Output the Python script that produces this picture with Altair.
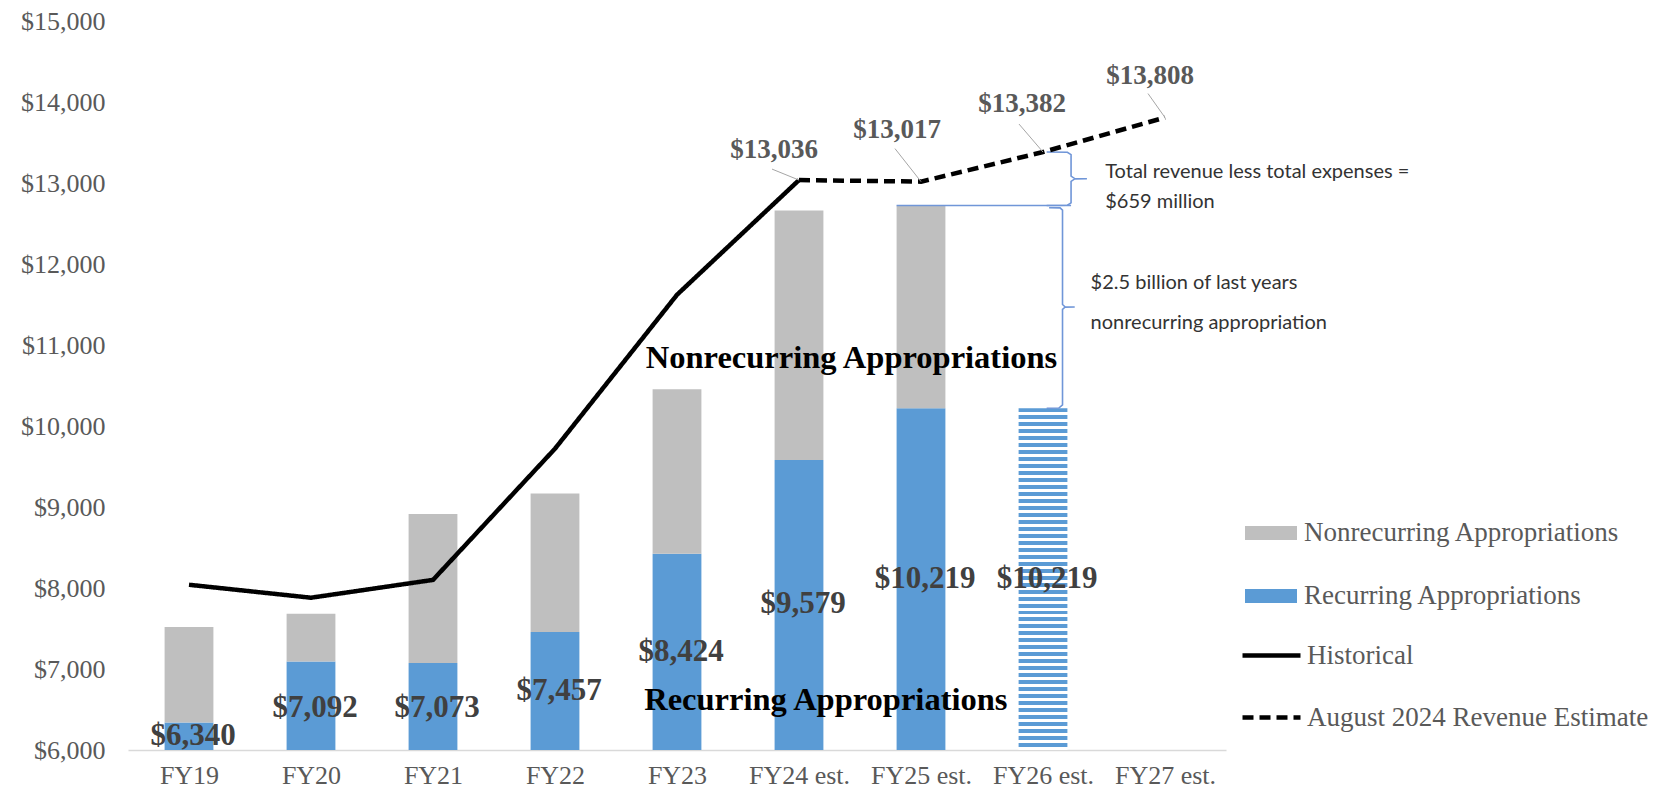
import altair as alt
import pandas as pd

# ---------------- data ----------------
years = ["FY19", "FY20", "FY21", "FY22", "FY23", "FY24 est.", "FY25 est.", "FY26 est.", "FY27 est."]
recurring = [6340, 7092, 7073, 7457, 8424, 9579, 10219]          # FY19..FY25
nonrecurring = [1180, 590, 1840, 1710, 2030, 3080, 2504]          # FY19..FY25
fy26_recurring = 10219                                            # FY26 (hatched)
historical = [8040, 7880, 8100, 9720, 11620, 13036]               # FY19..FY24
estimate = [13036, 13017, 13382, 13808]                           # FY24..FY27
rec_label_y = [6167, 6521, 6521, 6729, 7212, 7804, 8117, 8117]    # label anchors (value units)

GREY = "#BFBFBF"
BLUE = "#5B9BD5"
BRACE = "#7096D8"
SERIF = "Liberation Serif"
SANS = "Lato"

W, H = 1098, 729
YMIN, YMAX = 6000, 15000
PX_X = W / 9.0                 # px per category unit
PX_Y = H / float(YMAX - YMIN)  # px per value unit

xscale = alt.Scale(domain=[-0.5, 8.5], nice=False, zero=False)
yscale = alt.Scale(domain=[YMIN, YMAX], nice=False, zero=False)

label_expr = "[" + ",".join("'%s'" % y for y in years) + "][datum.value]"
xaxis = alt.Axis(values=list(range(9)), labelExpr=label_expr, grid=False, ticks=False,
                 domainColor="#D9D9D9", domainWidth=1.5, labelFont=SERIF, labelFontSize=26,
                 labelColor="#595959", labelPadding=12, labelOverlap=False, labelFlush=False,
                 labelBound=False, title=None)
yaxis = alt.Axis(values=list(range(YMIN, YMAX + 1, 1000)), format="$,.0f", grid=False, ticks=False,
                 domain=False, labelFont=SERIF, labelFontSize=26, labelColor="#595959",
                 labelPadding=23, minExtent=115, maxExtent=115, title=None)

# ---------------- stacked bars ----------------
rows = []
for i in range(len(recurring)):
    rows.append(dict(idx=i, series="Recurring Appropriations", lo=YMIN, hi=recurring[i]))
    rows.append(dict(idx=i, series="Nonrecurring Appropriations", lo=recurring[i],
                     hi=recurring[i] + nonrecurring[i]))
bar_df = pd.DataFrame(rows)

bars = alt.Chart(bar_df).transform_calculate(
    x0="datum.idx - 0.2", x1="datum.idx + 0.2"
).mark_bar().encode(
    x=alt.X("x0:Q", scale=xscale, axis=xaxis),
    x2="x1:Q",
    y=alt.Y("hi:Q", scale=yscale, axis=yaxis),
    y2="lo:Q",
    color=alt.Color("series:N",
                    scale=alt.Scale(domain=["Nonrecurring Appropriations", "Recurring Appropriations"],
                                    range=[GREY, BLUE]),
                    legend=alt.Legend(orient="none", legendX=1117, legendY=486, title=None,
                                      symbolType="M-1,-0.27L1,-0.27L1,0.27L-1,0.27Z",
                                      symbolSize=2704, symbolStrokeWidth=0, labelFont=SERIF,
                                      labelFontSize=27, labelColor="#595959", labelOffset=7,
                                      rowPadding=24, padding=0, labelLimit=500)),
)

# ---------------- FY26 hatched bar ----------------
n = 49
stops = []
for k in range(n):
    a, b, c = k / n, (k + 0.57) / n, (k + 1) / n
    stops += [alt.GradientStop(color=BLUE, offset=round(a, 5)),
              alt.GradientStop(color=BLUE, offset=round(b, 5)),
              alt.GradientStop(color="white", offset=round(b, 5)),
              alt.GradientStop(color="white", offset=round(c, 5))]
stripes = alt.LinearGradient(gradient="linear", stops=stops, x1=0, x2=0, y1=0, y2=1)

fy26 = alt.Chart(pd.DataFrame({"idx": [7], "lo": [YMIN], "hi": [fy26_recurring]})).transform_calculate(
    x0="datum.idx - 0.2", x1="datum.idx + 0.2"
).mark_bar(fill=stripes).encode(
    x=alt.X("x0:Q", scale=xscale), x2="x1:Q",
    y=alt.Y("hi:Q", scale=yscale), y2="lo:Q",
)

# ---------------- revenue lines ----------------
lrows = [dict(idx=i, value=v, series="Historical") for i, v in enumerate(historical)]
lrows += [dict(idx=5 + i, value=v, series="August 2024 Revenue Estimate") for i, v in enumerate(estimate)]
line_df = pd.DataFrame(lrows)

lines = alt.Chart(line_df).mark_line(color="black", strokeWidth=4.5, strokeCap="butt").encode(
    x=alt.X("idx:Q", scale=xscale),
    y=alt.Y("value:Q", scale=yscale),
    order="idx:Q",
    strokeDash=alt.StrokeDash("series:N",
                              scale=alt.Scale(domain=["Historical", "August 2024 Revenue Estimate"],
                                              range=[[1, 0], [11, 6]]),
                              legend=alt.Legend(orient="none", legendX=1112, legendY=603, title=None,
                                                symbolType="stroke", symbolSize=3364,
                                                symbolStrokeWidth=4.5, symbolStrokeColor="black",
                                                labelFont=SERIF, labelFontSize=27,
                                                labelColor="#595959", labelOffset=4,
                                                rowPadding=17, padding=0, labelLimit=500)),
)

# ---------------- line value labels + leader lines ----------------
label_offsets = [(-25, -30), (-24, -52), (-21, -48), (-15, -42)]   # px, label centre
leader_offsets = [(-27, -11), (-26, -33), (-24, -28), (-17, -24)]   # px, leader end
line_labels = []
for k, v in enumerate(estimate):
    i = 5 + k
    d = pd.DataFrame({"idx": [i], "value": [v]})
    dx, dy = label_offsets[k]
    lx, ly = leader_offsets[k]
    line_labels.append(
        alt.Chart(d).transform_calculate(
            x2="datum.idx + (%f)" % (lx / PX_X), y2="datum.value + (%f)" % (-ly / PX_Y)
        ).mark_rule(color="#A6A6A6", strokeWidth=1).encode(
            x=alt.X("idx:Q", scale=xscale), y=alt.Y("value:Q", scale=yscale), x2="x2:Q", y2="y2:Q"))
    line_labels.append(
        alt.Chart(d).transform_calculate(lab="'$' + format(datum.value, ',')").mark_text(
            font=SERIF, fontSize=27, fontWeight="bold", color="#595959", dx=dx, dy=dy,
            baseline="middle", align="center").encode(
            x=alt.X("idx:Q", scale=xscale), y=alt.Y("value:Q", scale=yscale), text="lab:N"))

# ---------------- recurring value labels ----------------
rec_all = recurring + [fy26_recurring]
rec_lab = alt.Chart(pd.DataFrame({"idx": list(range(8)), "rec": rec_all, "ly": rec_label_y})).transform_calculate(
    lab="'$' + format(datum.rec, ',')"
).mark_text(font=SERIF, fontSize=31, fontWeight="bold", color="#404040", dx=4, baseline="middle").encode(
    x=alt.X("idx:Q", scale=xscale), y=alt.Y("ly:Q", scale=yscale), text="lab:N")

# ---------------- category labels inside plot ----------------
cat_df = pd.DataFrame({"x": [5.43, 5.22], "y": [10840, 6617],
                       "t": ["Nonrecurring Appropriations", "Recurring Appropriations"]})
cat_lab = alt.Chart(cat_df).mark_text(font=SERIF, fontSize=32.5, fontWeight="bold", color="black",
                                      baseline="middle").encode(
    x=alt.X("x:Q", scale=xscale), y=alt.Y("y:Q", scale=yscale), text="t:N")

# ---------------- braces & annotation ----------------
fy25_total = recurring[6] + nonrecurring[6]
upper = [(7.03, 13382), (7.20, 13380), (7.23, 13350), (7.23, 13085), (7.26, 13055), (7.36, 13053),
         (7.26, 13050), (7.23, 13020), (7.23, 12755), (7.20, 12726), (7.03, fy25_total)]
lower = [(7.05, 12695), (7.14, 12693), (7.16, 12665), (7.16, 11500), (7.18, 11472), (7.26, 11470),
         (7.18, 11466), (7.16, 11440), (7.16, 10260), (7.13, 10222), (7.03, fy26_recurring)]
brows = [dict(g="u", o=j, x=p[0], y=p[1]) for j, p in enumerate(upper)]
brows += [dict(g="l", o=j, x=p[0], y=p[1]) for j, p in enumerate(lower)]
braces = alt.Chart(pd.DataFrame(brows)).mark_line(color=BRACE, strokeWidth=1.6).encode(
    x=alt.X("x:Q", scale=xscale), y=alt.Y("y:Q", scale=yscale), detail="g:N", order="o:Q")

hline = alt.Chart(pd.DataFrame({"x": [5.8], "x2": [7.23], "y": [fy25_total]})).mark_rule(
    color=BRACE, strokeWidth=1.6).encode(
    x=alt.X("x:Q", scale=xscale), x2="x2:Q", y=alt.Y("y:Q", scale=yscale))

ann_df = pd.DataFrame({
    "x": [7.51, 7.51, 7.39, 7.39],
    "y": [13136, 12765, 11765, 11272],
    "t": ["Total revenue less total expenses =", "$659 million",
          "$2.5 billion of last years", "nonrecurring appropriation"]})
ann = alt.Chart(ann_df).mark_text(font=SANS, fontSize=20, color="#333333", align="left",
                                  baseline="middle").encode(
    x=alt.X("x:Q", scale=xscale), y=alt.Y("y:Q", scale=yscale), text="t:N")

chart = alt.layer(bars, fy26, hline, braces, lines, *line_labels, rec_lab, cat_lab, ann).properties(
    width=W, height=H,
    padding={"left": 5, "top": 0, "right": 2, "bottom": 0},
    background="white",
).configure_view(stroke=None)

chart.save("out.html", embed_options={"renderer": "svg", "actions": False})
